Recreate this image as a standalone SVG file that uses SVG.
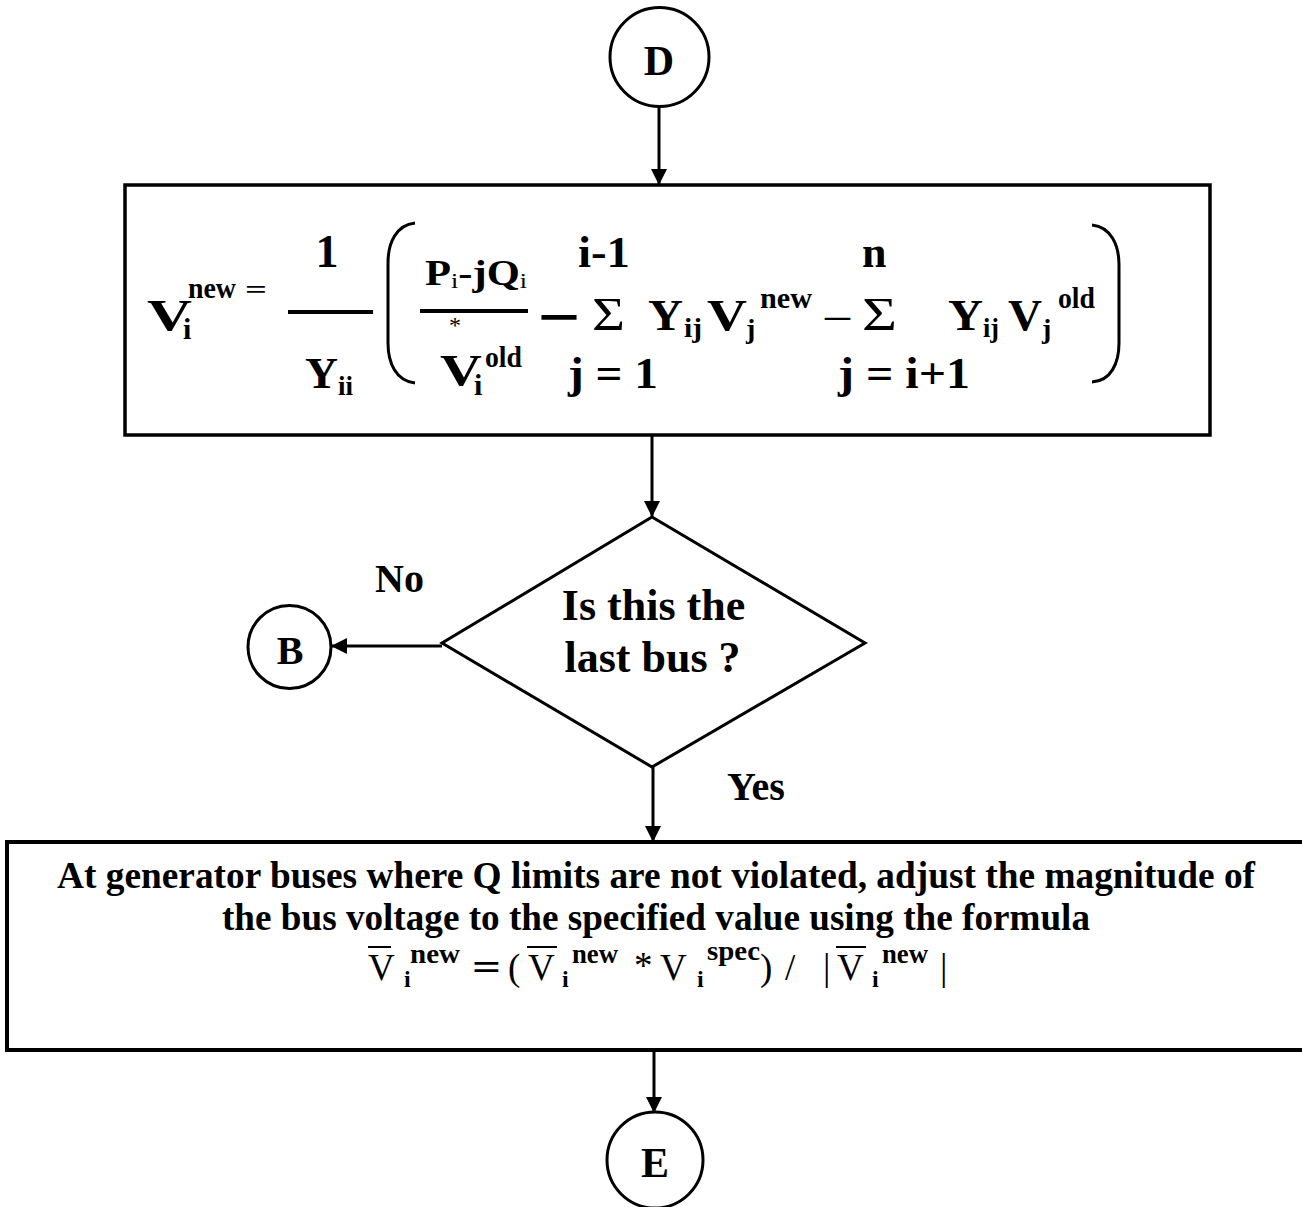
<svg xmlns="http://www.w3.org/2000/svg" width="1302" height="1207" viewBox="0 0 1302 1207">
<style>
.b{font-family:"Liberation Serif","Times New Roman",serif;font-weight:bold;fill:#000}
.r{font-family:"Liberation Serif","Times New Roman",serif;font-weight:normal;fill:#000}
.ln{stroke:#000;stroke-width:3;fill:none}
.shape{stroke:#000;fill:#fff}
.c{text-anchor:middle}
</style>
<defs>
<marker id="arr" markerUnits="userSpaceOnUse" markerWidth="16" markerHeight="16" refX="15" refY="8" orient="auto">
<path d="M0,0 L16,8 L0,16 z" fill="#000"/>
</marker>
</defs>
<rect width="1302" height="1207" fill="#fff"/>

<g id="connectors">
<line class="ln" x1="659" y1="107" x2="659" y2="184" marker-end="url(#arr)"/>
<line class="ln" x1="652" y1="435" x2="652" y2="516" marker-end="url(#arr)"/>
<line class="ln" x1="442" y1="646" x2="332" y2="646" marker-end="url(#arr)"/>
<line class="ln" x1="653" y1="767" x2="653" y2="841" marker-end="url(#arr)"/>
<line class="ln" x1="654" y1="1050" x2="654" y2="1112" marker-end="url(#arr)"/>
<text class="b" x="375" y="592" font-size="40">No</text>
<text class="b" x="727" y="800" font-size="40">Yes</text>
</g>

<g id="node-D">
<circle class="shape" cx="659.5" cy="57" r="49.5" stroke-width="3"/>
<text class="b c" x="659" y="75" font-size="42">D</text>
</g>

<g id="node-calc">
<rect class="shape" x="125" y="185" width="1085" height="250" stroke-width="3.5"/>
<text class="b" x="147" y="330" font-size="44" textLength="45" lengthAdjust="spacingAndGlyphs">V</text>
<text class="b" x="183" y="339" font-size="30">i</text>
<text class="b" x="188" y="298" font-size="30" textLength="48" lengthAdjust="spacingAndGlyphs">new</text>
<text class="b" x="245" y="298" font-size="26" textLength="22" lengthAdjust="spacingAndGlyphs">=</text>
<text class="b c" x="327" y="267" font-size="46">1</text>
<line x1="288" y1="312" x2="373" y2="312" stroke="#000" stroke-width="4"/>
<text class="b" x="305" y="388" font-size="44" textLength="33" lengthAdjust="spacingAndGlyphs">Y</text>
<text class="b" x="338" y="395" font-size="28" textLength="15" lengthAdjust="spacingAndGlyphs">ii</text>
<path class="ln" stroke-width="4" d="M415,223 C396,225 388,243 388,263 L388,343 C388,363 396,381 415,383"/>
<text class="b" x="425" y="285" font-size="36" textLength="102" lengthAdjust="spacingAndGlyphs">P<tspan class="r" font-size="22" dy="3">i</tspan><tspan dy="-3">-jQ</tspan><tspan class="r" font-size="22" dy="3">i</tspan></text>
<line x1="420" y1="311" x2="528" y2="311" stroke="#000" stroke-width="4"/>
<text class="r c" x="455" y="333" font-size="24">*</text>
<text class="b" x="440" y="385" font-size="44" textLength="42" lengthAdjust="spacingAndGlyphs">V</text>
<text class="b" x="474" y="395" font-size="30">i</text>
<text class="b" x="485" y="367" font-size="30" textLength="37" lengthAdjust="spacingAndGlyphs">old</text>
<text class="b" x="578" y="267" font-size="44" textLength="52" lengthAdjust="spacingAndGlyphs">i-1</text>
<text class="b" x="543" y="328" font-size="46" textLength="32" lengthAdjust="spacingAndGlyphs" stroke="#000" stroke-width="1.6">–</text>
<text class="r" x="592" y="330" font-size="46" textLength="33" lengthAdjust="spacingAndGlyphs">Σ</text>
<text class="b" x="648" y="330" font-size="44" textLength="35" lengthAdjust="spacingAndGlyphs">Y</text>
<text class="b" x="684" y="337" font-size="28" textLength="18" lengthAdjust="spacingAndGlyphs">ij</text>
<text class="b" x="707" y="330" font-size="44" textLength="40" lengthAdjust="spacingAndGlyphs">V</text>
<text class="b" x="746" y="338" font-size="28">j</text>
<text class="b" x="760" y="308" font-size="30" textLength="52" lengthAdjust="spacingAndGlyphs">new</text>
<text class="r" x="825" y="329" font-size="44" textLength="25" lengthAdjust="spacingAndGlyphs">–</text>
<text class="r" x="862" y="330" font-size="46" textLength="35" lengthAdjust="spacingAndGlyphs">Σ</text>
<text class="b" x="862" y="267" font-size="44">n</text>
<text class="b" x="948" y="330" font-size="44" textLength="35" lengthAdjust="spacingAndGlyphs">Y</text>
<text class="b" x="983" y="337" font-size="28" textLength="16" lengthAdjust="spacingAndGlyphs">ij</text>
<text class="b" x="1008" y="330" font-size="44" textLength="34" lengthAdjust="spacingAndGlyphs">V</text>
<text class="b" x="1042" y="338" font-size="28">j</text>
<text class="b" x="1058" y="308" font-size="30" textLength="37" lengthAdjust="spacingAndGlyphs">old</text>
<path class="ln" stroke-width="4" d="M1092,225 C1111,227 1119,245 1119,265 L1119,343 C1119,363 1111,381 1092,382"/>
<text class="b" x="568" y="388" font-size="44" textLength="90" lengthAdjust="spacingAndGlyphs">j = 1</text>
<text class="b" x="838" y="388" font-size="44" textLength="132" lengthAdjust="spacingAndGlyphs">j = i+1</text>
</g>

<g id="node-decision">
<polygon class="shape" stroke-width="3" points="652,517 865,643 652,767 442,643"/>
<text class="b c" x="653.5" y="620" font-size="44">Is this the</text>
<text class="b c" x="652.5" y="672" font-size="44">last bus ?</text>
</g>

<g id="node-B">
<circle class="shape" cx="289.5" cy="647" r="41.5" stroke-width="3"/>
<text class="b c" x="290" y="664" font-size="40">B</text>
</g>

<g id="node-adjust">
<rect class="shape" x="7" y="842" width="1310" height="208" stroke-width="4"/>
<text class="b c" x="656" y="888" font-size="37" textLength="1198" lengthAdjust="spacingAndGlyphs">At generator buses where Q limits are not violated, adjust the magnitude of</text>
<text class="b c" x="656" y="930" font-size="37" textLength="868" lengthAdjust="spacingAndGlyphs">the bus voltage to the specified value using the formula</text>
<text class="r" x="368" y="980" font-size="37">V</text>
<line x1="368" y1="947" x2="391" y2="947" stroke="#000" stroke-width="2"/>
<text class="b" x="404" y="987" font-size="24">i</text>
<text class="b" x="410" y="963" font-size="28" textLength="50" lengthAdjust="spacingAndGlyphs">new</text>
<text class="b" x="472" y="980" font-size="37" textLength="29" lengthAdjust="spacingAndGlyphs">=</text>
<text class="r" x="508" y="980" font-size="37">(</text>
<text class="r" x="528" y="980" font-size="37">V</text>
<line x1="527" y1="947" x2="557" y2="947" stroke="#000" stroke-width="2"/>
<text class="b" x="562" y="987" font-size="24">i</text>
<text class="b" x="572" y="963" font-size="28" textLength="46" lengthAdjust="spacingAndGlyphs">new</text>
<text class="r" x="634" y="978" font-size="37">*</text>
<text class="r" x="660" y="980" font-size="37">V</text>
<text class="b" x="697" y="987" font-size="24">i</text>
<text class="b" x="707" y="960" font-size="28" textLength="53" lengthAdjust="spacingAndGlyphs">spec</text>
<text class="r" x="760" y="980" font-size="37">)</text>
<text class="r" x="785" y="980" font-size="37">/</text>
<text class="r" x="823" y="980" font-size="37">|</text>
<text class="r" x="837" y="980" font-size="37">V</text>
<line x1="836" y1="947" x2="866" y2="947" stroke="#000" stroke-width="2"/>
<text class="b" x="872" y="987" font-size="24">i</text>
<text class="b" x="882" y="963" font-size="28" textLength="46" lengthAdjust="spacingAndGlyphs">new</text>
<text class="r" x="940" y="980" font-size="37">|</text>
</g>

<g id="node-E">
<circle class="shape" cx="655" cy="1160" r="48" stroke-width="3"/>
<text class="b c" x="655" y="1177" font-size="42">E</text>
</g>
</svg>
